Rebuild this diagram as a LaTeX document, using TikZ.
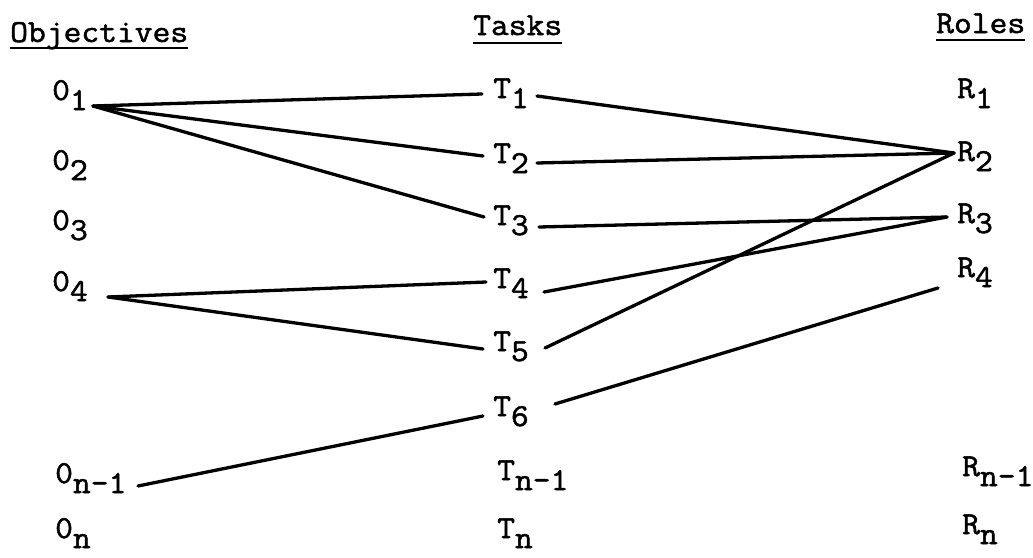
\documentclass[tikz,border=0pt]{standalone}
\usepackage{fontspec}
\newfontfamily\tw[FakeStretch=1.08,FakeBold=1.6]{Latin Modern Mono}
\newcommand{\lbl}[2]{#1\raisebox{-10pt}{#2}}
\begin{document}
\begin{tikzpicture}[x=1pt,y=-1pt,
  lab/.style={anchor=base west,inner sep=0pt,font=\tw\fontsize{32}{34}\selectfont},
  link/.style={line width=3.3pt,line cap=round,line join=round},
  uline/.style={line width=2.4pt}]
\useasboundingbox (0,0) rectangle (1033,557);
% headers
\node[lab] (hobj) at (10,42) {Objectives};
\node[lab] (htask) at (473,35) {Tasks};
\node[lab] (hrole) at (936,33) {Roles};
\draw[uline] ([yshift=-6pt]hobj.base west) -- ([yshift=-6pt]hobj.base east);
\draw[uline] ([yshift=-8pt]htask.base west) -- ([yshift=-8pt]htask.base east);
\draw[uline] ([yshift=-7pt]hrole.base west) -- ([yshift=-7pt]hrole.base east);
% objectives
\node[lab] (o1) at (52,100) {\lbl{0}{1}};
\node[lab] (o2) at (52,170) {\lbl{0}{2}};
\node[lab] (o3) at (52,230) {\lbl{0}{3}};
\node[lab] (o4) at (52,291) {\lbl{0}{4}};
\node[lab] (on1) at (55,483) {\lbl{0}{n-1}};
\node[lab] (on) at (55,538) {\lbl{0}{n}};
% tasks
\node[lab] (t1) at (493,98) {\lbl{T}{1}};
\node[lab] (t2) at (493,163) {\lbl{T}{2}};
\node[lab] (t3) at (493,225) {\lbl{T}{3}};
\node[lab] (t4) at (493,288) {\lbl{T}{4}};
\node[lab] (t5) at (493,351) {\lbl{T}{5}};
\node[lab] (t6) at (493,416) {\lbl{T}{6}};
\node[lab] (tn1) at (497,480) {\lbl{T}{n-1}};
\node[lab] (tn) at (497,538) {\lbl{T}{n}};
% roles
\node[lab] (r1) at (957,98) {\lbl{R}{1}};
\node[lab] (r2) at (957,161) {\lbl{R}{2}};
\node[lab] (r3) at (957,223) {\lbl{R}{3}};
\node[lab] (r4) at (957,277) {\lbl{R}{4}};
\node[lab] (rn1) at (962,476) {\lbl{R}{n-1}};
\node[lab] (rn) at (962,534) {\lbl{R}{n}};
% connection points
\coordinate (o1p) at (93,106);
\coordinate (o4p) at (108,297);
\coordinate (on1p) at (138,486);
\coordinate (t1l) at (482,94);  \coordinate (t1r) at (537,96);
\coordinate (t2l) at (483,156); \coordinate (t2r) at (537,163);
\coordinate (t3l) at (484,217); \coordinate (t3r) at (539,227);
\coordinate (t4l) at (486,282); \coordinate (t4r) at (544,292);
\coordinate (t5l) at (483,349); \coordinate (t5r) at (545,348);
\coordinate (t6l) at (483,416); \coordinate (t6r) at (555,404);
\coordinate (r2l) at (954,153);
\coordinate (r3l) at (947,217);
\coordinate (r4l) at (938,288);
% connectors
\draw[link] (o1p) -- (t1l);
\draw[link] (o1p) -- (t2l);
\draw[link] (o1p) -- (t3l);
\draw[link] (o4p) -- (t4l);
\draw[link] (o4p) -- (t5l);
\draw[link] (on1p) -- (t6l);
\draw[link] (t1r) -- (r2l);
\draw[link] (t2r) -- (r2l);
\draw[link] (t5r) -- (r2l);
\draw[link] (t3r) -- (r3l);
\draw[link] (t4r) -- (r3l);
\draw[link] (t6r) -- (r4l);
\end{tikzpicture}
\end{document}
